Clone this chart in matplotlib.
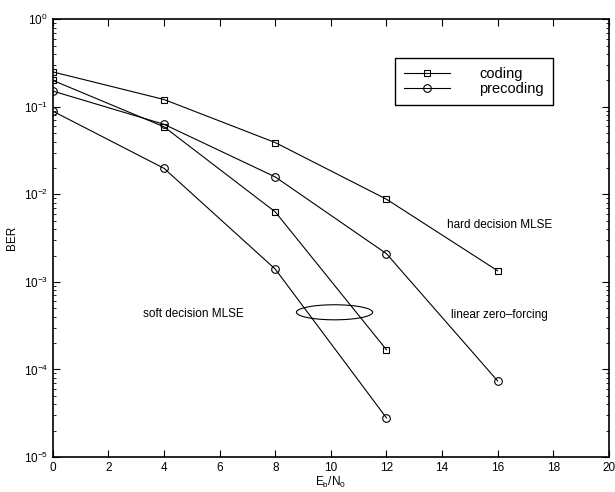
import numpy as np
import matplotlib
matplotlib.use('Agg')
import matplotlib.pyplot as plt
from matplotlib.ticker import LogLocator, NullFormatter

plt.rcParams['font.family'] = ['Liberation Sans', 'DejaVu Sans']
plt.rcParams['mathtext.default'] = 'regular'

# data
ebno = [0, 4, 8, 12, 16]
hard_coding = [0.25, 0.121, 0.039, 0.0088, 0.00134]          # hard decision MLSE
zf_precoding = [0.151, 0.063, 0.0158, 0.0021, 7.4e-5]        # linear zero-forcing
soft_coding = [0.20, 0.059, 0.0063, 1.68e-4]                 # soft decision MLSE
soft_precoding = [0.089, 0.0198, 0.0014, 2.8e-5]
xticks = list(range(0, 21, 2))

fig = plt.figure(figsize=(6.15, 4.92), dpi=100)
ax = fig.add_axes([0.086, 0.071, 0.904, 0.890])

lw = 0.8
ax.semilogy(ebno, hard_coding, 'k-', marker='s', mfc='none', ms=4, lw=lw, mew=0.8, label='coding')
ax.semilogy(ebno, zf_precoding, 'k-', marker='o', mfc='none', ms=5.5, lw=lw, mew=0.8, label='precoding')
ax.semilogy(ebno[:4], soft_coding, 'k-', marker='s', mfc='none', ms=4, lw=lw, mew=0.8)
ax.semilogy(ebno[:4], soft_precoding, 'k-', marker='o', mfc='none', ms=5.5, lw=lw, mew=0.8)

# ellipse grouping the soft decision curves (drawn in log space)
t = np.linspace(0, 2 * np.pi, 200)
ex = 10.13 + 1.37 * np.cos(t)
ey = 10 ** (np.log10(4.5e-4) + 0.086 * np.sin(t))
ax.plot(ex, ey, 'k-', lw=lw)

ax.text(14.18, 0.00448, 'hard decision MLSE', fontsize=8.5, va='center')
ax.text(14.32, 4.2e-4, 'linear zero\u2013forcing', fontsize=8.5, va='center')
ax.text(3.24, 4.3e-4, 'soft decision MLSE', fontsize=8.5, va='center')

ax.set_xlim(0, 20)
ax.set_ylim(1e-5, 1)
ax.set_xticks(xticks)
ax.yaxis.set_major_locator(LogLocator(base=10, numticks=10))
ax.yaxis.set_minor_locator(LogLocator(base=10, subs=np.arange(2, 10), numticks=10))
ax.yaxis.set_minor_formatter(NullFormatter())
ax.tick_params(which='both', direction='in', top=True, right=True, labelsize=8.5)
ax.tick_params(which='major', length=5)
ax.tick_params(which='minor', length=2.5)
for s in ax.spines.values():
    s.set_linewidth(1.2)

ax.set_xlabel('E$_b$/N$_0$', fontsize=8.5, labelpad=1)
ax.set_ylabel('BER', fontsize=8.5, labelpad=4)

leg = ax.legend(loc='upper left', bbox_to_anchor=(0.615, 0.911), fontsize=10.5,
                handlelength=3.2, handletextpad=2.0, fancybox=False, edgecolor='k',
                framealpha=1, borderpad=0.6, labelspacing=0.1, borderaxespad=0)
leg.get_frame().set_linewidth(1.0)

fig.savefig('out.png', dpi=100)
